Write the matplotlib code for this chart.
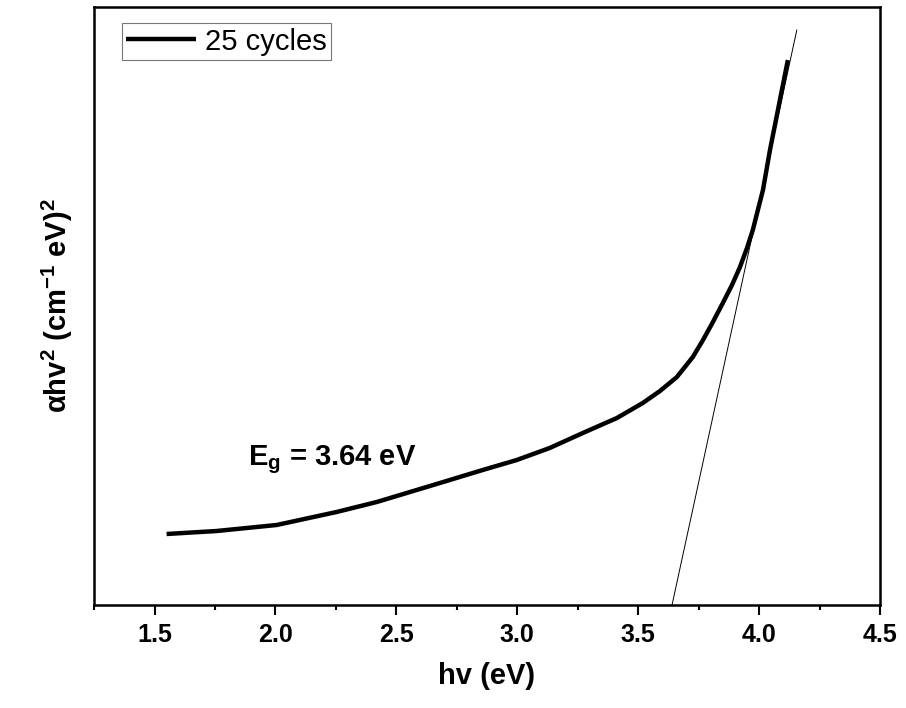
import numpy as np
from matplotlib import pyplot as plt
from matplotlib.ticker import MultipleLocator

# data (y in arbitrary units)
hv = [1.550, 1.757, 1.881, 2.005, 2.253, 2.419, 2.584, 2.721, 2.857, 2.998,
      3.134, 3.271, 3.412, 3.519, 3.590, 3.660, 3.726, 3.768, 3.809, 3.850,
      3.888, 3.921, 3.950, 3.974, 3.995, 4.016, 4.045, 4.082, 4.119]
ahv2 = [0.71, 0.74, 0.77, 0.80, 0.93, 1.03, 1.15, 1.25, 1.35, 1.45,
        1.57, 1.72, 1.87, 2.02, 2.14, 2.28, 2.48, 2.65, 2.83, 3.02,
        3.20, 3.38, 3.57, 3.75, 3.95, 4.15, 4.55, 5.00, 5.45]

# linear fit line through the absorption edge
fit_x = [3.64, 4.156]
fit_y = [0.0, 5.75]

eg_text = r'E$_\mathbf{g}$ = 3.64 eV'

plt.rcParams['font.family'] = ['Liberation Sans', 'DejaVu Sans']
plt.rcParams['mathtext.fontset'] = 'custom'
plt.rcParams['mathtext.rm'] = 'Liberation Sans:bold'
plt.rcParams['mathtext.bf'] = 'Liberation Sans:bold'
plt.rcParams['mathtext.it'] = 'Liberation Sans:italic:bold'

fig = plt.figure(figsize=(9.06, 7.08), dpi=100)
ax = fig.add_axes([0.1038, 0.1455, 0.8675, 0.8445])

ax.plot(hv, ahv2, color='black', lw=3.2, solid_capstyle='butt',
        solid_joinstyle='round', label='25 cycles')
ax.plot(fit_x, fit_y, color='black', lw=0.7)

ax.set_xlim(1.25, 4.5)
ax.set_ylim(0, 5.98)

ax.xaxis.set_major_locator(MultipleLocator(0.5))
ax.xaxis.set_minor_locator(MultipleLocator(0.25))
ax.set_yticks([])
ax.tick_params(axis='x', which='major', length=7, width=1.5, pad=6, labelsize=18)
ax.tick_params(axis='x', which='minor', length=3.5, width=1.5)
for lbl in ax.get_xticklabels():
    lbl.set_fontweight('bold')
for s in ax.spines.values():
    s.set_linewidth(1.8)

ax.set_xlabel('hv (eV)', fontsize=21, fontweight='bold', labelpad=11)
ax.set_ylabel(r'αhv$^2$ (cm$^{-1}$ eV)$^2$', fontsize=21,
              fontweight='bold', labelpad=14)

ax.text(1.885, 1.40, eg_text, fontsize=21, fontweight='bold', va='baseline')

leg = ax.legend(loc='upper left', bbox_to_anchor=(0.0356, 0.973), borderaxespad=0,
                fontsize=21, frameon=True, fancybox=False, handlelength=2.4,
                handletextpad=0.3, borderpad=0.15)
leg.get_frame().set_edgecolor('#555555')
leg.get_frame().set_linewidth(0.8)

fig.savefig('out.png', dpi=100)
